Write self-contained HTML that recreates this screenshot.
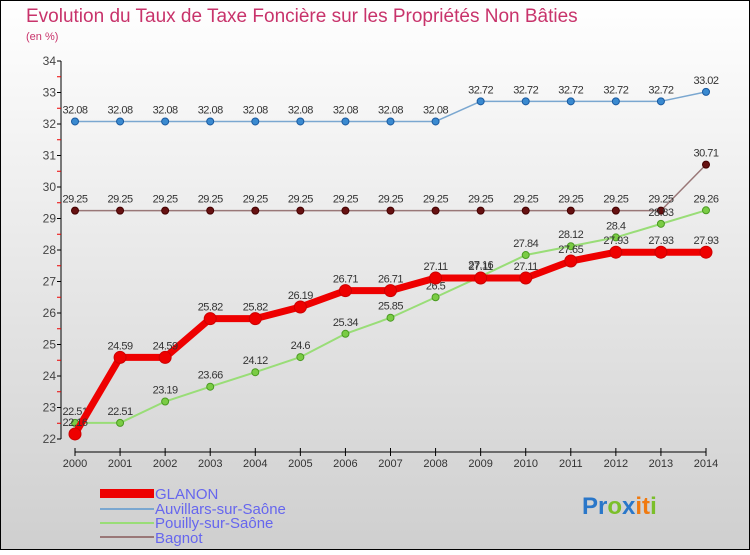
<!DOCTYPE html>
<html><head><meta charset="utf-8"><style>
html,body{margin:0;padding:0}
body{width:750px;height:550px;overflow:hidden;font-family:"Liberation Sans",sans-serif}
</style></head><body>
<svg id="chart" width="750" height="550" xmlns="http://www.w3.org/2000/svg">
<defs><linearGradient id="bg" x1="0" y1="0" x2="0" y2="1"><stop offset="0" stop-color="#ffffff"/><stop offset="1" stop-color="#cfcfcf"/></linearGradient></defs>
<rect x="0.5" y="0.5" width="749" height="549" fill="url(#bg)" stroke="#000"/>
<text x="26" y="22" font-size="19" fill="#c8336b">Evolution du Taux de Taxe Foncière sur les Propriétés Non Bâties</text>
<text x="26" y="40" font-size="11" fill="#c8336b">(en %)</text>
<g id="axes"></g><g id="series"></g>
<g font-size="15" fill="#6666ee">
<rect x="100" y="489" width="54" height="9" fill="#ee0000"/>
<text x="155" y="499">GLANON</text>
<line x1="100" y1="509" x2="154" y2="509" stroke="#7aa7d0" stroke-width="2"/>
<text x="155" y="514">Auvillars-sur-Saône</text>
<line x1="100" y1="523" x2="154" y2="523" stroke="#99dd77" stroke-width="2"/>
<text x="155" y="528">Pouilly-sur-Saône</text>
<line x1="100" y1="537" x2="154" y2="537" stroke="#997777" stroke-width="2"/>
<text x="155" y="543">Bagnot</text>
</g>
<text x="582" y="514" font-size="24" font-weight="bold"><tspan fill="#2a77c9">Pr</tspan><tspan fill="#7bbf2a">o</tspan><tspan fill="#2a77c9">x</tspan><tspan fill="#f07a10">it</tspan><tspan fill="#7bbf2a">i</tspan></text>
</svg>
<script>
const years=[2000,2001,2002,2003,2004,2005,2006,2007,2008,2009,2010,2011,2012,2013,2014];
const yTicks=[22,23,24,25,26,27,28,29,30,31,32,33,34];
const glanon=[22.16,24.59,24.59,25.82,25.82,26.19,26.71,26.71,27.11,27.11,27.11,27.65,27.93,27.93,27.93];
const auvillars=[32.08,32.08,32.08,32.08,32.08,32.08,32.08,32.08,32.08,32.72,32.72,32.72,32.72,32.72,33.02];
const pouilly=[22.51,22.51,23.19,23.66,24.12,24.6,25.34,25.85,26.5,27.16,27.84,28.12,28.4,28.83,29.26];
const bagnot=[29.25,29.25,29.25,29.25,29.25,29.25,29.25,29.25,29.25,29.25,29.25,29.25,29.25,29.25,30.71];
const NS="http://www.w3.org/2000/svg";
const x=i=>75+i*(706-75)/(years.length-1);
const y=v=>439-(v-22)*(439-61)/12;
function mk(t,a,p){const e=document.createElementNS(NS,t);for(const k in a)e.setAttribute(k,a[k]);p.appendChild(e);return e;}
const ax=document.getElementById('axes');
const yAxis=mk('line',{x1:61,y1:y(34),x2:61,y2:y(22),stroke:'#000'},ax);


yTicks.forEach(t=>{
  mk('line',{x1:57,y1:y(t),x2:61,y2:y(t),stroke:'#000'},ax);
  if(t<34) mk('line',{x1:57,y1:y(t+0.5),x2:61,y2:y(t+0.5),stroke:'#e00'},ax);
  const tx=mk('text',{x:56,y:y(t)+4,'text-anchor':'end','font-size':12,fill:'#444'},ax);
  tx.textContent=t;
  
  
});
const xAxis=mk('line',{x1:x(0),y1:452,x2:x(14),y2:452,stroke:'#000'},ax);


years.forEach((yr,i)=>{
  mk('line',{x1:x(i),y1:448,x2:x(i),y2:456,stroke:'#000'},ax);
  const tx=mk('text',{x:x(i),y:467,'text-anchor':'middle','font-size':11,fill:'#333'},ax);
  tx.textContent=yr;
  
  
});
const sg=document.getElementById('series');
function series(name,data,color,w,r,dot,dotStroke){
  const g=mk('g',{},sg);
  
  
  mk('polyline',{points:data.map((v,i)=>x(i)+','+y(v)).join(' '),fill:'none',stroke:color,'stroke-width':w,'stroke-linejoin':'round'},g);
  data.forEach((v,i)=>{
    const c=mk('circle',{cx:x(i),cy:y(v),r:r,fill:dot,stroke:dotStroke,'stroke-width':1},g);
    
    
    const t=mk('text',{x:x(i),y:y(v)-8,'text-anchor':'middle','font-size':11,fill:'#333','letter-spacing':'-0.5'},g);
    t.textContent=String(v);
    
    
  });
}
series('auvillars',auvillars,'#7aa7d0',1.5,3.5,'#3a8ad0','#1a5aa0');
series('bagnot',bagnot,'#997777',1.5,3.5,'#661111','#440000');
series('pouilly',pouilly,'#99dd77',2,3.5,'#7acc44','#4a9a22');
series('glanon',glanon,'#ee0000',7,6,'#ee0000','#cc0000');
</script>
</body></html>
